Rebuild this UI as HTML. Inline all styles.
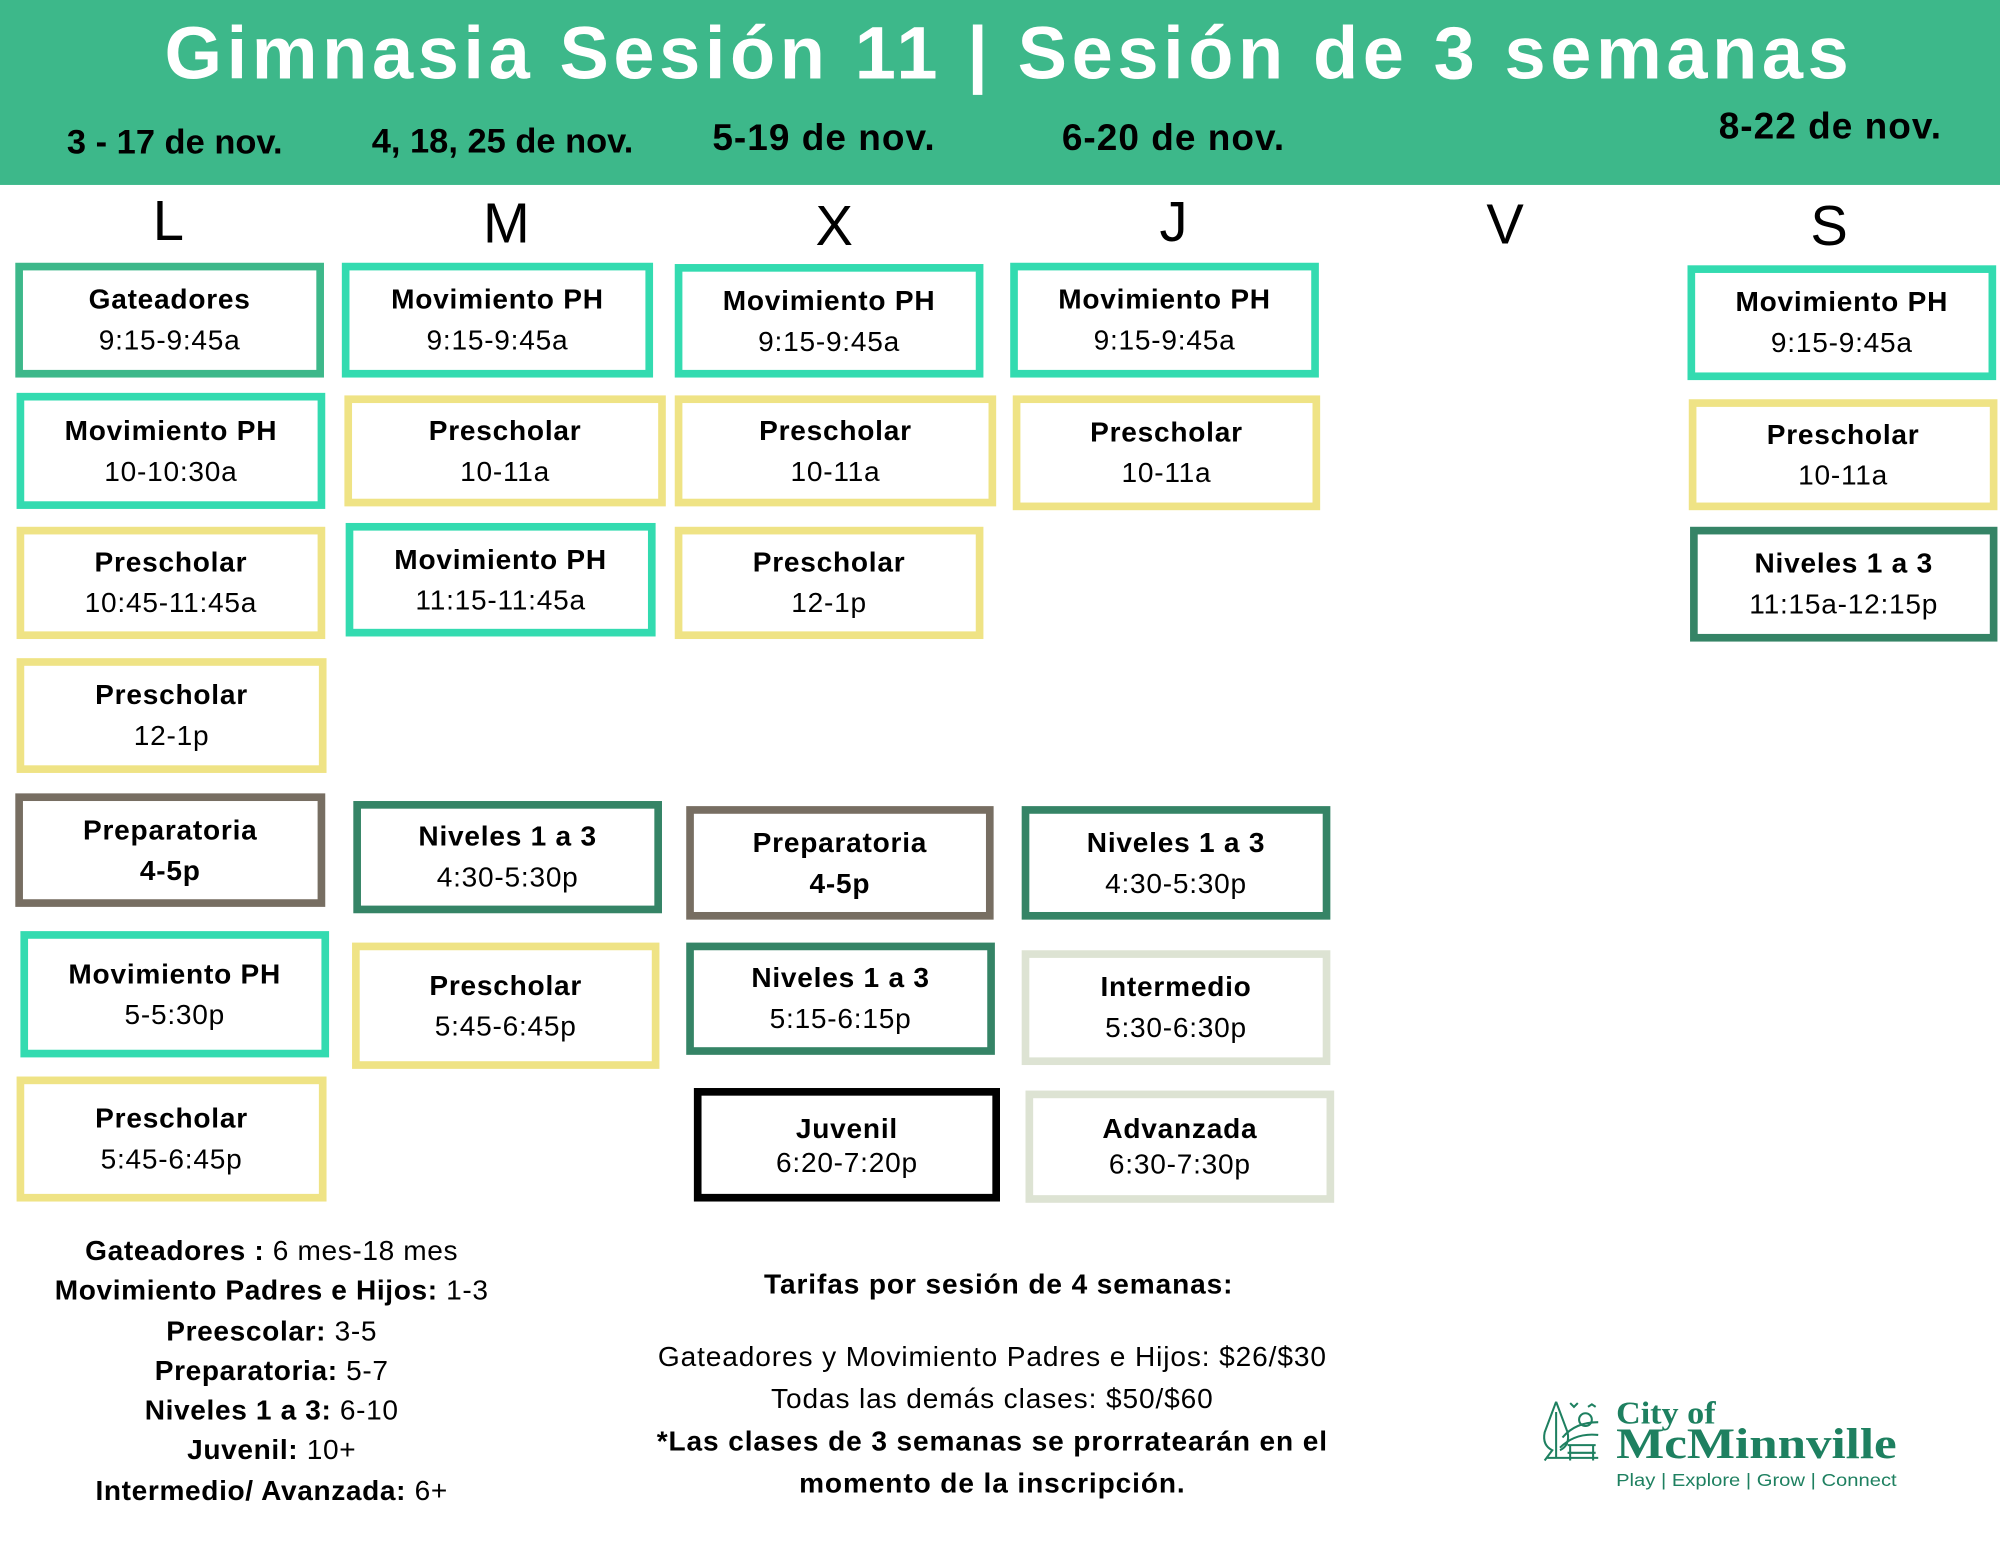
<!DOCTYPE html>
<html><head><meta charset="utf-8">
<style>
html,body{margin:0;padding:0;background:#fff;}
body{width:2000px;height:1545px;overflow:hidden;position:relative;}
#c{position:absolute;left:0;top:0;width:1568px;height:1212px;transform:scale(1.27551);transform-origin:0 0;font-family:"Liberation Sans",sans-serif;color:#000;}
.hdr{position:absolute;left:0;top:0;width:1568px;height:145px;background:#3db88a;}
.t{position:absolute;white-space:nowrap;transform:translate(-50%,-50%);}
.b{position:absolute;box-sizing:border-box;border:6px solid;background:#fff;display:flex;flex-direction:column;align-items:center;justify-content:center;font-size:22px;line-height:32px;text-align:center;letter-spacing:0.6px;}
.b b{font-weight:bold;}
.c1{border-color:#3db88a}.c2{border-color:#33dbb0}.c3{border-color:#efe385}.c4{border-color:#358466}.c5{border-color:#776e62}.c6{border-color:#dde3d3}.c7{border-color:#000}
.leg{position:absolute;font-size:22px;line-height:31.3px;text-align:center;letter-spacing:0.3px;}
</style></head><body><div id="c">
<div class="hdr"></div>
<div class="t" style="left:791px;top:42px;font-size:58px;font-weight:bold;color:#fff;letter-spacing:3.6px;">Gimnasia Sesión 11 | Sesión de 3 semanas</div>
<div class="t" style="left:137px;top:112px;font-size:27px;font-weight:bold;">3 - 17 de nov.</div>
<div class="t" style="left:394px;top:111px;font-size:27px;font-weight:bold;">4, 18, 25 de nov.</div>
<div class="t" style="left:646px;top:109px;font-size:29px;font-weight:bold;letter-spacing:0.8px;">5-19 de nov.</div>
<div class="t" style="left:920px;top:109px;font-size:29px;font-weight:bold;letter-spacing:0.8px;">6-20 de nov.</div>
<div class="t" style="left:1435px;top:100px;font-size:29px;font-weight:bold;letter-spacing:0.8px;">8-22 de nov.</div>
<div class="t" style="left:132px;top:174px;font-size:44px;">L</div>
<div class="t" style="left:397px;top:176px;font-size:44px;">M</div>
<div class="t" style="left:654px;top:178px;font-size:44px;">X</div>
<div class="t" style="left:920px;top:175px;font-size:44px;">J</div>
<div class="t" style="left:1180px;top:177px;font-size:44px;">V</div>
<div class="t" style="left:1434px;top:178px;font-size:44px;">S</div>

<div class="b c1" style="left:12px;top:206px;width:242px;height:90px;"><b>Gateadores</b><span>9:15-9:45a</span></div>
<div class="b c2" style="left:13px;top:308px;width:242px;height:91px;"><b>Movimiento PH</b><span>10-10:30a</span></div>
<div class="b c3" style="left:13px;top:413px;width:242px;height:88px;"><b>Prescholar</b><span>10:45-11:45a</span></div>
<div class="b c3" style="left:13px;top:516px;width:243px;height:90px;"><b>Prescholar</b><span>12-1p</span></div>
<div class="b c5" style="left:12px;top:622px;width:243px;height:89px;"><b>Preparatoria</b><b>4-5p</b></div>
<div class="b c2" style="left:16px;top:730px;width:242px;height:99px;"><b>Movimiento PH</b><span>5-5:30p</span></div>
<div class="b c3" style="left:13px;top:844px;width:243px;height:98px;"><b>Prescholar</b><span>5:45-6:45p</span></div>

<div class="b c2" style="left:268px;top:206px;width:244px;height:90px;"><b>Movimiento PH</b><span>9:15-9:45a</span></div>
<div class="b c3" style="left:270px;top:310px;width:252px;height:87px;"><b>Prescholar</b><span>10-11a</span></div>
<div class="b c2" style="left:271px;top:410px;width:243px;height:89px;"><b>Movimiento PH</b><span>11:15-11:45a</span></div>
<div class="b c4" style="left:277px;top:628px;width:242px;height:88px;"><b>Niveles 1 a 3</b><span>4:30-5:30p</span></div>
<div class="b c3" style="left:276px;top:739px;width:241px;height:99px;"><b>Prescholar</b><span>5:45-6:45p</span></div>

<div class="b c2" style="left:529px;top:207px;width:242px;height:89px;"><b>Movimiento PH</b><span>9:15-9:45a</span></div>
<div class="b c3" style="left:529px;top:310px;width:252px;height:87px;"><b>Prescholar</b><span>10-11a</span></div>
<div class="b c3" style="left:529px;top:413px;width:242px;height:88px;"><b>Prescholar</b><span>12-1p</span></div>
<div class="b c5" style="left:538px;top:632px;width:241px;height:89px;"><b>Preparatoria</b><b>4-5p</b></div>
<div class="b c4" style="left:538px;top:739px;width:242px;height:88px;"><b>Niveles 1 a 3</b><span>5:15-6:15p</span></div>
<div class="b c7" style="left:544px;top:853px;width:240px;height:89px;line-height:27px;"><b>Juvenil</b><span>6:20-7:20p</span></div>

<div class="b c2" style="left:792px;top:206px;width:242px;height:90px;"><b>Movimiento PH</b><span>9:15-9:45a</span></div>
<div class="b c3" style="left:794px;top:310px;width:241px;height:90px;"><b>Prescholar</b><span>10-11a</span></div>
<div class="b c4" style="left:801px;top:632px;width:242px;height:89px;"><b>Niveles 1 a 3</b><span>4:30-5:30p</span></div>
<div class="b c6" style="left:801px;top:745px;width:242px;height:90px;"><b>Intermedio</b><span>5:30-6:30p</span></div>
<div class="b c6" style="left:804px;top:855px;width:242px;height:88px;line-height:28px;"><b>Advanzada</b><span>6:30-7:30p</span></div>

<div class="b c2" style="left:1323px;top:208px;width:242px;height:90px;"><b>Movimiento PH</b><span>9:15-9:45a</span></div>
<div class="b c3" style="left:1324px;top:313px;width:242px;height:87px;"><b>Prescholar</b><span>10-11a</span></div>
<div class="b c4" style="left:1325px;top:413px;width:241px;height:90px;"><b>Niveles 1 a 3</b><span>11:15a-12:15p</span></div>

<div class="leg" style="left:0;width:426px;top:965px;letter-spacing:0.5px;">
<b>Gateadores :</b> 6 mes-18 mes<br><b>Movimiento Padres e Hijos:</b> 1-3<br><b>Preescolar:</b> 3-5<br><b>Preparatoria:</b> 5-7<br><b>Niveles 1 a 3:</b> 6-10<br><b>Juvenil:</b> 10+<br><b>Intermedio/ Avanzada:</b> 6+
</div>
<div class="t" style="left:783px;top:1007px;font-size:22px;font-weight:bold;letter-spacing:0.7px;">Tarifas por sesión de 4 semanas:</div>
<div class="leg" style="left:428px;width:700px;top:1047px;line-height:33px;letter-spacing:0.7px;">
Gateadores y Movimiento Padres e Hijos: $26/$30<br>Todas las demás clases: $50/$60<br><b>*Las clases de 3 semanas se prorratearán en el<br>momento de la inscripción.</b>
</div>

<svg style="position:absolute;left:1205px;top:1093px;" width="290" height="80" viewBox="0 0 290 80">
<g fill="none" stroke="#1e8060" stroke-width="1.6">
<path d="M15 6 L6 30 Q4 40 12 44 L6 52 M15 6 L24 30 Q26 40 18 44 M15 14 V50"/>
<path d="M8 50 H48 M18 42 Q30 30 48 32 M20 34 Q30 22 48 22"/>
<circle cx="38" cy="20" r="5"/>
<path d="M24 40 H46 M24 46 H46 M26 40 V52 M44 40 V52 M26 7 l3 3 l3 -3 M40 10 l3 -2 l3 2"/>
</g>
<text x="62" y="23" font-family="Liberation Serif,serif" font-weight="bold" font-size="25" fill="#1e8060" textLength="78" lengthAdjust="spacingAndGlyphs">City of</text>
<text x="62" y="50" font-family="Liberation Serif,serif" font-weight="bold" font-size="34" fill="#1e8060" textLength="220" lengthAdjust="spacingAndGlyphs">McMinnville</text>
<text x="62" y="72" font-family="Liberation Sans,sans-serif" font-size="14" fill="#1e8060" textLength="220" lengthAdjust="spacingAndGlyphs">Play | Explore | Grow | Connect</text>
</svg>
</div></body></html>
